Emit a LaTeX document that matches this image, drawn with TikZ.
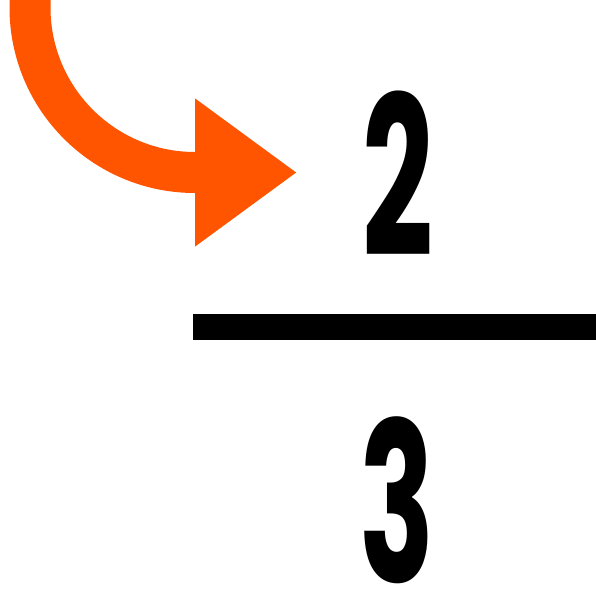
\documentclass[tikz,border=0pt]{standalone}
\usepackage{fontspec}
\setmainfont{Poppins}[BoldFont={* Bold}]
\usepackage{tikz}
\usetikzlibrary{arrows.meta,positioning,calc}
\definecolor{arroworange}{HTML}{FF5500}

\begin{document}
\begin{tikzpicture}[x=1pt, y=-1pt,
    digit/.style={anchor=base, inner sep=0pt, text depth=0pt, xscale=0.56,
      font=\fontsize{222}{222}\selectfont\bfseries}]
  \useasboundingbox (0,0) rectangle (596,590);

  % Numerator and denominator
  \node[digit] (num) at (398,256) {2};
  \node[digit] (den) at (397,582) {3};

  % Fraction bar
  \fill[black] (193,314) rectangle (596,340);

  % Curved arrow
  \coordinate (start) at (30,-2);
  \coordinate (tip) at (297,172.5);
  \draw[arroworange, line width=41pt,
        -{Triangle[length=102pt, width=141pt]}]
    (start) -- (30,7.5) arc[start angle=180, end angle=90, radius=165]
    -- (tip);
\end{tikzpicture}
\end{document}
